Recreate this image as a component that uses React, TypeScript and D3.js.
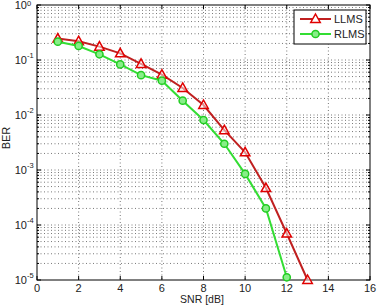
import React from "react";
import * as d3 from "d3";

const snr = [1, 2, 3, 4, 5, 6, 7, 8, 9, 10, 11, 12, 13];
const llms = [0.245, 0.22, 0.175, 0.132, 0.085, 0.054, 0.031, 0.0152, 0.0053, 0.0021, 0.00047, 0.00007, 0.00001];
const rlmsX = [1, 2, 3, 4, 5, 6, 7, 8, 9, 10, 11, 12];
const rlms = [0.215, 0.18, 0.127, 0.083, 0.053, 0.042, 0.0182, 0.0081, 0.003, 0.00085, 0.0002, 0.0000112];
const xTicks = [0, 2, 4, 6, 8, 10, 12, 14, 16];
const yDecades = [0, -1, -2, -3, -4, -5];

const W = 381, H = 306;
const L = 37, R = 370, T = 5, B = 280;

export default function App() {
  const x = d3.scaleLinear().domain([0, 16]).range([L, R]);
  const y = d3.scaleLog().domain([1e-5, 1]).range([B, T]);
  const line = d3.line<[number, number]>().x(d => x(d[0])).y(d => y(d[1]));
  const redPts: [number, number][] = snr.map((s, i) => [s, llms[i]]);
  const grnPts: [number, number][] = rlmsX.map((s, i) => [s, rlms[i]]);
  const minor: number[] = [];
  for (let e = -5; e < 0; e++) for (let k = 2; k <= 9; k++) minor.push(k * Math.pow(10, e));
  const font = "'Liberation Sans', Arial, sans-serif";
  const grid = { stroke: "#555", strokeWidth: 0.8, strokeDasharray: "1,2.5" };
  const tri = (cx: number, cy: number, r = 5) =>
    `M${cx},${cy - r}L${cx + r * 0.95},${cy + r * 0.7}L${cx - r * 0.95},${cy + r * 0.7}Z`;
  const redLine = "#c02020", redMk = "#e00000";
  const grnLine = "#33dd33", grnMk = "#22cc22";
  return (
    <svg width={W} height={H} style={{ position: "absolute", left: 0, top: 0, background: "#fff" }}>
      <rect x={L} y={T} width={R - L} height={B - T} fill="#fff" />
      {xTicks.slice(1, -1).map(t => (
        <line key={"gx" + t} x1={x(t)} x2={x(t)} y1={T} y2={B} {...grid} />
      ))}
      {yDecades.slice(1, -1).map(e => (
        <line key={"gy" + e} x1={L} x2={R} y1={y(Math.pow(10, e))} y2={y(Math.pow(10, e))} {...grid} />
      ))}
      {minor.map((v, i) => (
        <line key={"gm" + i} x1={L} x2={R} y1={y(v)} y2={y(v)} {...grid} />
      ))}
      {xTicks.map(t => (
        <g key={"tx" + t}>
          <line x1={x(t)} x2={x(t)} y1={B} y2={B - 4} stroke="#000" />
          <line x1={x(t)} x2={x(t)} y1={T} y2={T + 4} stroke="#000" />
          <text x={x(t)} y={292} textAnchor="middle" fontFamily={font} fontSize={11} fill="#222">{t}</text>
        </g>
      ))}
      {yDecades.map(e => (
        <g key={"ty" + e}>
          <line x1={L} x2={L + 4} y1={y(Math.pow(10, e))} y2={y(Math.pow(10, e))} stroke="#000" />
          <line x1={R} x2={R - 4} y1={y(Math.pow(10, e))} y2={y(Math.pow(10, e))} stroke="#000" />
          <text x={27} y={y(Math.pow(10, e)) + 4} textAnchor="end" fontFamily={font} fontSize={11} fill="#222">10</text>
          <text x={27} y={Math.max(y(Math.pow(10, e)) - 2, 6)} textAnchor="start" fontFamily={font} fontSize={7.5} fill="#222">{e}</text>
        </g>
      ))}
      {minor.map((v, i) => (
        <g key={"tm" + i}>
          <line x1={L} x2={L + 2} y1={y(v)} y2={y(v)} stroke="#000" />
          <line x1={R} x2={R - 2} y1={y(v)} y2={y(v)} stroke="#000" />
        </g>
      ))}
      <rect x={L} y={T} width={R - L} height={B - T} fill="none" stroke="#000" strokeWidth={1} />
      <path d={line(redPts) || ""} fill="none" stroke={redLine} strokeWidth={2} />
      {redPts.map((p, i) => (
        <path key={"rm" + i} d={tri(x(p[0]), y(p[1]))} fill="#fff" fillOpacity={0.5} stroke={redMk} strokeWidth={1.5} />
      ))}
      <path d={line(grnPts) || ""} fill="none" stroke={grnLine} strokeWidth={2} />
      {grnPts.map((p, i) => (
        <circle key={"gm" + i} cx={x(p[0])} cy={y(p[1])} r={3.6} fill="#88ee88" stroke={grnMk} strokeWidth={1.5} />
      ))}
      <rect x={294} y={10} width={72} height={34} fill="#fff" stroke="#000" strokeWidth={1} />
      <line x1={300} x2={331} y1={19} y2={19} stroke={redLine} strokeWidth={2} />
      <path d={tri(315.5, 19)} fill="#fff" stroke={redMk} strokeWidth={1.5} />
      <text x={334} y={23} fontFamily={font} fontSize={11} fill="#222">LLMS</text>
      <line x1={300} x2={331} y1={34} y2={34} stroke={grnLine} strokeWidth={2} />
      <circle cx={315.5} cy={34} r={3.6} fill="#88ee88" stroke={grnMk} strokeWidth={1.5} />
      <text x={334} y={38} fontFamily={font} fontSize={11} fill="#222">RLMS</text>
      <text x={202} y={303} textAnchor="middle" fontFamily={font} fontSize={10.5} fill="#222">SNR [dB]</text>
      <text transform={`translate(10,138) rotate(-90)`} textAnchor="middle" fontFamily={font} fontSize={11} fill="#222">BER</text>
    </svg>
  );
}
